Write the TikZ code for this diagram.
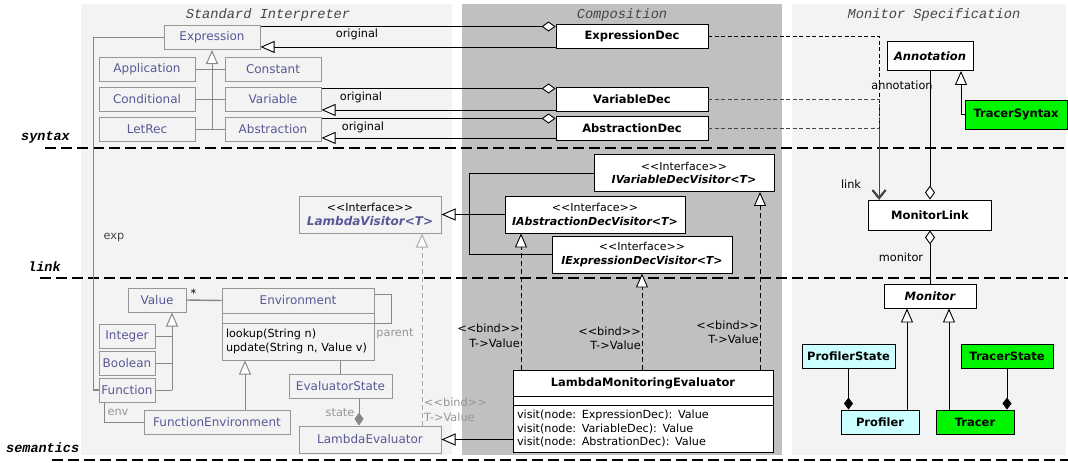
\documentclass[tikz,border=0pt]{standalone}
\usepackage{fontspec}
\setmainfont{DejaVu Sans}
\newfontfamily\monofont{Liberation Mono}
\usetikzlibrary{arrows.meta}
\definecolor{panel}{RGB}{243,243,243}
\definecolor{compgray}{RGB}{192,192,192}
\definecolor{sgray}{RGB}{150,150,150}
\definecolor{lgray}{RGB}{135,135,135}
\definecolor{spurple}{RGB}{88,88,150}
\definecolor{tgreen}{RGB}{0,245,0}
\definecolor{pcyan}{RGB}{204,255,255}
\definecolor{dgray}{RGB}{70,70,70}
\newcommand{\stereo}[1]{<\kern0pt<#1>\kern0pt>}

\begin{document}
\begin{tikzpicture}[x=1pt, y=-1pt,
    every node/.style={font=\fontsize{12}{14}\selectfont},
    sbox/.style={draw=sgray, line width=1pt, fill=panel, text=spurple, inner sep=2pt, minimum height=24},
    mbox/.style={draw=black, line width=0.9pt, fill=white, font=\fontsize{11.5}{14}\selectfont\bfseries, inner sep=2pt, minimum height=24},
    ibox/.style={mbox, align=center, minimum width=180, minimum height=37, font=\fontsize{11}{13.5}\selectfont\bfseries\itshape},
    stfont/.style={font=\fontsize{11}{13}\selectfont},
    opsfont/.style={font=\fontsize{11.2}{13.7}\selectfont},
    lbl/.style={font=\fontsize{11.3}{14.5}\selectfont, inner sep=0pt},
    paneltitle/.style={font=\monofont\itshape\fontsize{13.7}{16}\selectfont, text=dgray},
    layerlbl/.style={font=\monofont\bfseries\itshape\fontsize{13.5}{16}\selectfont, inner sep=0pt, anchor=west},
    cline/.style={draw=black, line width=0.9pt},
    gen/.style={cline, -{Triangle[length=14pt, width=12pt, fill=white]}},
    aggr/.style={cline, -{Diamond[length=14pt, width=10pt, fill=white]}},
    compo/.style={cline, -{Diamond[length=12pt, width=9pt]}},
    real/.style={gen, dash pattern=on 5pt off 3pt},
    dep/.style={cline, dash pattern=on 4pt off 2.5pt, -{Straight Barb[length=8pt, width=13pt, line width=1.8pt]}},
    sline/.style={draw=lgray, line width=1pt},
    sgen/.style={sline, -{Triangle[length=14pt, width=12pt, fill=white]}},
    scomp/.style={sline, -{Diamond[length=13pt, width=9pt, fill=lgray]}},
    sreal/.style={sgen, draw=sgray!80, dash pattern=on 5pt off 3pt},
    sepline/.style={line width=1.6pt, dash pattern=on 11pt off 5pt}]
    \useasboundingbox (0,0) rectangle (1068,463);
    % panels
    \fill[panel] (81,4) rectangle (452,455);
    \fill[compgray] (462,4) rectangle (782,455);
    \fill[panel] (792,4) rectangle (1066,455);
    \node[paneltitle] (sititle) at (268,15) {Standard Interpreter};
    \node[paneltitle] (cotitle) at (622,15) {Composition};
    \node[paneltitle] (mstitle) at (934,15) {Monitor Specification};
    % layers
    \draw[sepline] (45,148) -- (1068,148);
    \draw[sepline] (40,278) -- (1068,278);
    \draw[sepline] (52,460) -- (1068,460);
    \node[layerlbl] (synlbl) at (21,137) {syntax};
    \node[layerlbl] (lnklbl) at (28,267) {link};
    \node[layerlbl] (semlbl) at (6,448) {semantics};

    % standard interpreter: syntax
    \node[sbox, minimum width=96] (expr) at (212,37.5) {Expression};
    \node[sbox, minimum width=96] (app) at (147,69) {Application};
    \node[sbox, minimum width=96] (const) at (273,69) {Constant};
    \node[sbox, minimum width=96] (cond) at (147,99.5) {Conditional};
    \node[sbox, minimum width=96] (var) at (273,99.5) {Variable};
    \node[sbox, minimum width=96] (letrec) at (147,129.5) {LetRec};
    \node[sbox, minimum width=96] (abs) at (273,129.5) {Abstraction};
    \draw[sline] (app.east) -- (const.west);
    \draw[sline] (cond.east) -- (var.west);
    \draw[sline] (letrec.east) -- (abs.west);
    \draw[sgen] (letrec.east -| expr.south) -- (expr.south);

    % standard interpreter: semantics
    \node[sbox, align=center, minimum width=142, minimum height=37] (lvis) at (370,214.5)
        {{\color{black}\fontsize{11}{13}\selectfont\stereo{Interface}}\\{\bfseries\itshape LambdaVisitor<T>}};
    \node[sbox, minimum width=58] (value) at (157,300) {Value};
    \node[sbox, minimum width=56] (int) at (127,336) {Integer};
    \node[sbox, minimum width=56] (bool) at (127,363) {Boolean};
    \node[sbox, minimum width=56] (func) at (127,390) {Function};
    \node[sbox, minimum width=152, minimum height=25] (envname) at (298,300.5) {Environment};
    \node[sbox, minimum width=152, minimum height=10, inner sep=0pt] (envattr) at (298,318) {};
    \node[sbox, opsfont, text=black, minimum width=152, minimum height=37, text width=144, inner xsep=4pt, align=left] (envops) at (298,341.5)
        {lookup(String n)\\update(String n, Value v)};
    \node[sbox, minimum width=103] (estate) at (340.5,386) {EvaluatorState};
    \node[sbox, minimum width=146] (fenv) at (217,422) {FunctionEnvironment};
    \node[sbox, minimum width=142, minimum height=27] (leval) at (370,439.5) {LambdaEvaluator};

    \draw[sline, line width=1.4pt] (expr.west) -- ++(-70,0) |- (func.west);
    \node[lbl, text=dgray] (explbl) at (114,238) {exp};
    \coordinate (vb) at ([xshift=15]value.south);
    \draw[sgen] (vb |- func.east) -- (vb);
    \draw[sline] (int.east) -- (int.east -| vb);
    \draw[sline] (bool.east) -- (bool.east -| vb);
    \draw[sline] (func.east) -- (func.east -| vb);
    \draw[sline, line width=1.4pt] (value.east) -- node[lbl, pos=0.2, above=2pt] {*} (envname.west);
    \draw[sline] ([yshift=-7]envname.north east) -- ++(17,0) |- (envattr.south east);
    \node[lbl, text=sgray] (parentlbl) at (395,334) {parent};
    \coordinate (fe) at ([xshift=28]fenv.north);
    \draw[sgen] (fe) -- (fe |- envops.south);
    \draw[sline] ([xshift=-23]func.south) |- (fenv.west);
    \node[lbl, text=sgray] (envlbl) at (118,412) {env};
    \draw[sline] (estate.north) -- (estate.north |- envops.south);
    \coordinate (sd) at ([xshift=18.5]estate.south);
    \draw[scomp] (sd) -- (sd |- leval.north);
    \node[lbl, text=sgray] (statelbl) at (340,413) {state};
    \coordinate (rl) at ([xshift=52]lvis.south);
    \draw[sreal] (rl |- leval.north) -- (rl);
    \node[lbl, text=sgray, anchor=west, align=left] (bind0) at (424,410) {\stereo{bind}\\T->Value};

    % composition
    \node[mbox, minimum width=152] (edec) at (632,36) {ExpressionDec};
    \node[mbox, minimum width=152] (vdec) at (632,99) {VariableDec};
    \node[mbox, minimum width=152] (adec) at (632,128) {AbstractionDec};
    \draw[aggr] ([yshift=-1.5]expr.north east) -- ([yshift=-1.5]expr.north east -| edec.west);
    \draw[gen] ([yshift=1.5]edec.south west) -- ([yshift=1.5]edec.south west -| expr.east);
    \node[lbl] (orig1) at (357,34) {original};
    \draw[aggr] ([yshift=-1.5]var.north east) -- ([yshift=-1.5]var.north east -| vdec.west);
    \draw[gen] ([yshift=1.5]vdec.south west) -- ([yshift=1.5]vdec.south west -| var.east);
    \node[lbl] (orig2) at (361,97) {original};
    \draw[aggr] ([yshift=-1.5]abs.north east) -- ([yshift=-1.5]abs.north east -| adec.west);
    \draw[gen] ([yshift=2.5]adec.south west) -- ([yshift=2.5]adec.south west -| abs.east);
    \node[lbl] (orig3) at (363,127) {original};

    \node[ibox] (ivar) at (684,173) {{\fontsize{11}{13}\selectfont\mdseries\upshape\stereo{Interface}}\\IVariableDecVisitor<T>};
    \node[ibox] (iabs) at (595,214.5) {{\fontsize{11}{13}\selectfont\mdseries\upshape\stereo{Interface}}\\IAbstractionDecVisitor<T>};
    \node[ibox] (iexp) at (642,254.5) {{\fontsize{11}{13}\selectfont\mdseries\upshape\stereo{Interface}}\\IExpressionDecVisitor<T>};
    \draw[gen] (iabs.west) -- (lvis.east);
    \draw[cline] (ivar.west) -- ++(-124,0) |- (iexp.west);

    \node[mbox, minimum width=260, minimum height=26] (lmename) at (643,383) {LambdaMonitoringEvaluator};
    \node[mbox, minimum width=260, minimum height=9, inner sep=0pt] (lmeattr) at (643,400.5) {};
    \node[mbox, opsfont, minimum width=260, minimum height=47, text width=252, inner xsep=4pt, align=left] (lmeops) at (643,428.5)
        {visit(node: ExpressionDec): Value\\visit(node: VariableDec): Value\\visit(node: AbstrationDec): Value};
    \coordinate (ra) at ([xshift=-74]iabs.south);
    \coordinate (rv) at ([xshift=76]ivar.south);
    \draw[real] (ra |- lmename.north) -- (ra);
    \draw[real] (iexp.south |- lmename.north) -- (iexp.south);
    \draw[real] (rv |- lmename.north) -- (rv);
    \node[lbl, anchor=east, align=right] (bind1) at (520,336) {\stereo{bind}\\T->Value};
    \node[lbl, anchor=east, align=right] (bind2) at (641,338.5) {\stereo{bind}\\T->Value};
    \node[lbl, anchor=east, align=right] (bind3) at (759,332.5) {\stereo{bind}\\T->Value};
    \draw[gen] (lmeops.west |- leval.east) -- (leval.east);

    % monitor specification
    \node[mbox, minimum width=86, minimum height=29, font=\fontsize{11.5}{14}\selectfont\bfseries\itshape] (ann) at (930,56) {Annotation};
    \node[mbox, fill=tgreen, minimum width=102, minimum height=29] (tsyn) at (1016,114.5) {TracerSyntax};
    \node[mbox, minimum width=123, minimum height=30] (mlink) at (930,215) {MonitorLink};
    \node[mbox, minimum width=92, font=\fontsize{11.5}{14}\selectfont\bfseries\itshape] (mon) at (930,296) {Monitor};
    \node[mbox, fill=pcyan, minimum width=93] (pstate) at (848.5,356) {ProfilerState};
    \node[mbox, fill=pcyan, minimum width=78] (prof) at (880,422) {Profiler};
    \node[mbox, fill=tgreen, minimum width=92] (tstate) at (1007,356) {TracerState};
    \node[mbox, fill=tgreen, minimum width=78] (tracer) at (975,422) {Tracer};

    \coordinate (lk) at ([xshift=11]mlink.north west);
    \draw[dep] (edec.east) -| (lk);
    \draw[dep, draw=dgray] (vdec.east) -| (lk);
    \draw[dep, draw=dgray] (adec.east) -| (lk);
    \node[lbl] (linklbl) at (851,184) {link};
    \draw[aggr] (ann.south) -- (mlink.north);
    \node[lbl] (annlbl) at (902,85) {annotation};
    \coordinate (ag) at ([xshift=31]ann.south);
    \draw[gen] (tsyn.west) -| (ag);
    \draw[aggr] (mon.north) -- (mlink.south);
    \node[lbl] (monlbl) at (901,257) {monitor};
    \coordinate (mp) at ([xshift=-23]mon.south);
    \coordinate (mt) at ([xshift=19]mon.south);
    \draw[gen] (mp |- prof.north) -- (mp);
    \draw[gen] (mt |- tracer.north) -- (mt);
    \draw[compo] (pstate.south) -- (pstate.south |- prof.north);
    \draw[compo] (tstate.south) -- (tstate.south |- tracer.north);
\end{tikzpicture}
\end{document}
